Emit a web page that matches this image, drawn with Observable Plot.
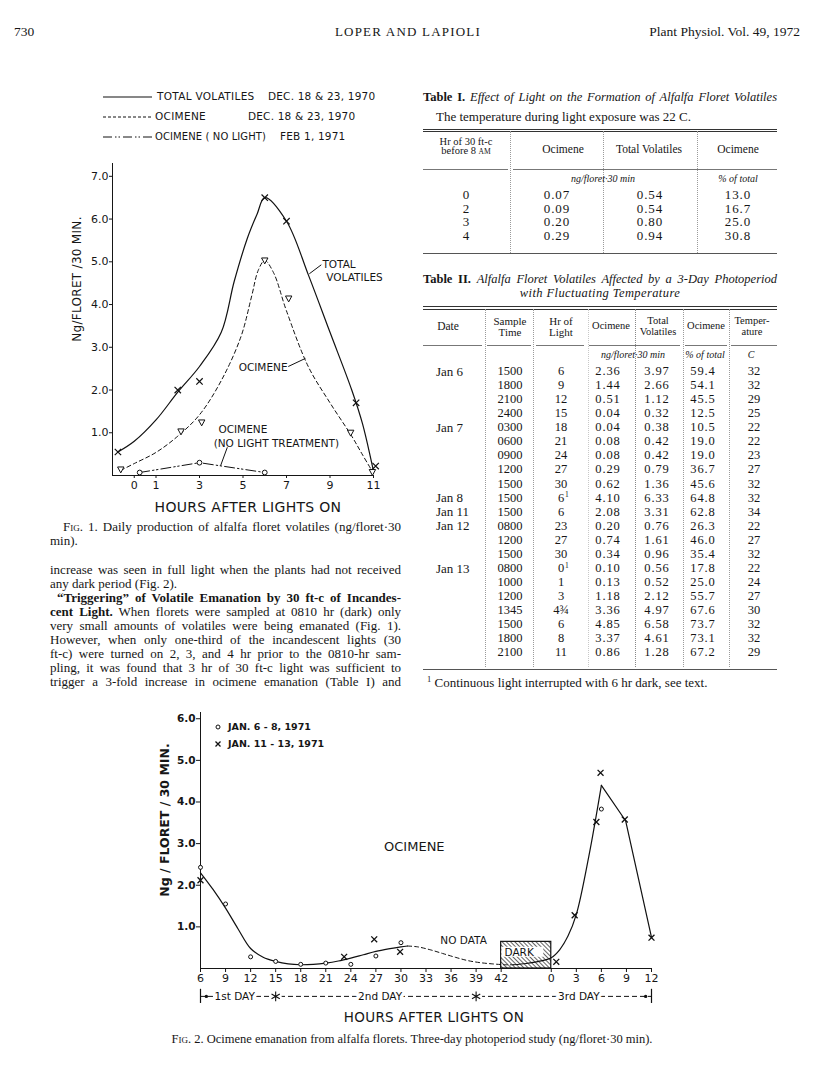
<!DOCTYPE html>
<html><head><meta charset="utf-8">
<script src="https://cdn.jsdelivr.net/npm/d3@7"></script>
<script src="https://cdn.jsdelivr.net/npm/@observablehq/plot@0.6"></script>
<style>
html,body{margin:0;padding:0;background:#fff;}
#page{position:relative;width:816px;height:1091px;overflow:hidden;background:#fff;color:#161616;font-family:"Liberation Serif","Times New Roman",serif;}
.t{position:absolute;white-space:nowrap;line-height:1;}
.sans{font-family:"DejaVu Sans",sans-serif;}
.hr{position:absolute;height:0;}
.vr{position:absolute;width:0;}
.plot{position:absolute;}
</style></head><body><div id="page"></div>
<script>
// ---------------- DATA ----------------
// Fig. 1
const f1XTicks = [0, 1, 3, 5, 7, 9, 11];
const f1YTicks = [1, 2, 3, 4, 5, 6, 7];
const f1TotalHours = [-0.75, 2, 3, 6, 7, 10.2, 11.1];
const f1TotalValues = [0.55, 2.0, 2.2, 6.5, 5.95, 1.7, 0.22];
const f1OcHours = [-0.62, 2.15, 3.1, 6.0, 7.1, 9.95, 10.95];
const f1OcValues = [0.14, 1.03, 1.24, 5.03, 4.14, 1.0, 0.08];
const f1NoLightHours = [0.25, 3.0, 6.0];
const f1NoLightValues = [0.07, 0.3, 0.07];
// hand-drawn fitted curves
const f1TotalCurveHours = [-0.75, 0, 1, 2, 3, 4, 4.6, 5.2, 5.65, 6, 7, 8, 9, 10, 10.5, 11];
const f1TotalCurveValues = [0.55, 0.8, 1.3, 1.95, 2.55, 3.35, 4.55, 5.55, 6.12, 6.5, 5.95, 4.7, 3.35, 2.0, 1.2, 0.1];
const f1OcCurveHours = [-0.62, 0, 1, 2, 3, 4, 4.9, 5.4, 5.7, 6, 6.4, 7, 8, 9, 10, 10.5, 11];
const f1OcCurveValues = [0.12, 0.28, 0.54, 0.92, 1.42, 2.22, 3.24, 4.2, 4.8, 5.03, 4.75, 3.85, 2.55, 1.7, 0.92, 0.48, 0.05];
const f1LabelText = ["TOTAL", "VOLATILES", "OCIMENE", "OCIMENE", "(NO LIGHT TREATMENT)"];
const f1LabelHours = [8.65, 8.83, 4.8, 3.87, 3.65];
const f1LabelValues = [4.94, 4.64, 2.53, 1.08, 0.75];
const f1Leaders = [[8.05, 4.72, 8.6, 4.93], [7.08, 2.55, 7.87, 2.74], [4.28, 0.66, 3.97, 0.23]];

// Fig. 2 (hours on a continuous 3-day axis: 48 = "0" of the 3rd day)
const f2TickPos = [6, 9, 12, 15, 18, 21, 24, 27, 30, 33, 36, 39, 42, 48, 51, 54, 57, 60];
const f2TickLabels = ["6", "9", "12", "15", "18", "21", "24", "27", "30", "33", "36", "39", "42", "0", "3", "6", "9", "12"];
const f2YTicks = [1, 2, 3, 4, 5, 6];
const f2CircleHours = [6, 9, 12, 15, 18, 21, 24, 27, 30, 54];
const f2CircleValues = [2.43, 1.55, 0.28, 0.17, 0.1, 0.13, 0.1, 0.3, 0.62, 3.83];
const f2CrossHours = [6, 23.2, 26.8, 29.9, 48.6, 50.8, 53.4, 53.9, 56.8, 60];
const f2CrossValues = [2.12, 0.28, 0.7, 0.4, 0.16, 1.28, 3.52, 4.7, 3.58, 0.74];
const f2CurveAHours = [6, 7.5, 9, 10.5, 12, 13.5, 15, 16.5, 18, 19.5, 21, 22.5, 24, 25.5, 27, 28.5, 30, 30.8];
const f2CurveAValues = [2.3, 1.9, 1.45, 0.95, 0.48, 0.27, 0.17, 0.11, 0.09, 0.1, 0.13, 0.18, 0.25, 0.33, 0.41, 0.47, 0.52, 0.54];
const f2DashHours = [30.8, 32, 33.5, 35, 36.5, 38, 39.5, 41, 42.5, 43.5];
const f2DashValues = [0.54, 0.52, 0.45, 0.36, 0.27, 0.19, 0.14, 0.11, 0.09, 0.09];
const f2CurveBHours = [43.5, 45, 46.5, 48, 49, 50, 51, 52.5, 54];
const f2CurveBValues = [0.09, 0.12, 0.17, 0.26, 0.45, 0.78, 1.3, 2.7, 4.4];
const f2CurveCHours = [54, 56.9, 60];
const f2CurveCValues = [4.4, 3.55, 0.75];
const f2Dark = {start: 42, end: 48, top: 0.64};
const f2DarkLabelBox = {start: 42.1, end: 47.1, low: 0.27, high: 0.51};
const f2LabelText = ["OCIMENE", "NO DATA"];
const f2LabelHours = [31.6, 37.5];
const f2LabelValues = [2.93, 0.67];
const f2LabelSizes = [13, 10.5];
const dayLabelText = ["1st DAY", "2nd DAY", "3rd DAY"];
const dayLabelHours = [10.1, 27.5, 51.3];
const daySeparators = [15, 39];
const dayEnds = [6, 60];
const dayRowValue = -0.67;

// Table I
const t1Hours = ["0", "2", "3", "4"];
const t1Ocimene = ["0.07", "0.09", "0.20", "0.29"];
const t1Total = ["0.54", "0.54", "0.80", "0.94"];
const t1Pct = ["13.0", "16.7", "25.0", "30.8"];

// Table II
const t2Date = ["Jan 6","","","","Jan 7","","","","","Jan 8","Jan 11","Jan 12","","","Jan 13","","","","","",""];
const t2Time = ["1500","1800","2100","2400","0300","0600","0900","1200","1500","1500","1500","0800","1200","1500","0800","1000","1200","1345","1500","1800","2100"];
const t2Hr = ["6","9","12","15","18","21","24","27","30","6","6","23","27","30","0","1","3","4¾","6","8","11"];
const t2HrNote = ["","","","","","","","","","1","","","","","1","","","","","",""];
const t2Oc = ["2.36","1.44","0.51","0.04","0.04","0.08","0.08","0.29","0.62","4.10","2.08","0.20","0.74","0.34","0.10","0.13","1.18","3.36","4.85","3.37","0.86"];
const t2Tot = ["3.97","2.66","1.12","0.32","0.38","0.42","0.42","0.79","1.36","6.33","3.31","0.76","1.61","0.96","0.56","0.52","2.12","4.97","6.58","4.61","1.28"];
const t2Pct = ["59.4","54.1","45.5","12.5","10.5","19.0","19.0","36.7","45.6","64.8","62.8","26.3","46.0","35.4","17.8","25.0","55.7","67.6","73.7","73.1","67.2"];
const t2Temp = ["32","32","29","25","22","22","23","27","32","32","34","22","27","32","22","24","27","30","32","32","29"];

// Body text
const bodyLines = [
  "increase was seen in full light when the plants had not received",
  "any dark period (Fig. 2).",
  "<b>“Triggering” of Volatile Emanation by 30 ft-c of Incandes-</b>",
  "<b>cent Light.</b> When florets were sampled at 0810 hr (dark) only",
  "very small amounts of volatiles were being emanated (Fig. 1).",
  "However, when only one-third of the incandescent lights (30",
  "ft-c) were turned on 2, 3, and 4 hr prior to the 0810-hr sam-",
  "pling, it was found that 3 hr of 30 ft-c light was sufficient to",
  "trigger a 3-fold increase in ocimene emanation (Table I) and"
];

// ---------------- HELPERS ----------------
const page = document.getElementById("page");
const zip = (xs, ys) => xs.map((x, i) => ({h: x, v: ys[i]}));
function put(html, x, y, o = {}) {
  const fs = o.fs || 13;
  const d = document.createElement("div");
  d.className = "t" + (o.sans ? " sans" : "");
  d.innerHTML = html;
  d.style.fontSize = fs + "px";
  d.style.left = x + "px";
  d.style.top = (y - fs * 0.55) + "px";
  if (o.bold) d.style.fontWeight = "bold";
  if (o.italic) d.style.fontStyle = "italic";
  if (o.ls) d.style.letterSpacing = o.ls + "px";
  if (o.width) {
    d.style.width = o.width + "px";
    d.style.textAlign = "justify";
    d.style.textAlignLast = o.last || "justify";
  }
  let tf = "";
  if (o.align === "center") tf = "translateX(-50%)";
  else if (o.align === "right") tf = "translateX(-100%)";
  if (o.rotate) { d.style.top = y + "px"; tf = "translate(-50%,-50%) rotate(-90deg)"; }
  d.style.transform = tf;
  page.appendChild(d);
  return d;
}
function hr(x1, x2, y, o = {}) {
  const d = document.createElement("div");
  d.className = "hr";
  d.style.left = x1 + "px"; d.style.width = (x2 - x1) + "px"; d.style.top = y + "px";
  d.style.borderTop = `${o.w || 1}px ${o.s || "solid"} ${o.c || "#444"}`;
  page.appendChild(d);
}
function vr(x, y1, y2, o = {}) {
  const d = document.createElement("div");
  d.className = "vr";
  d.style.left = x + "px"; d.style.top = y1 + "px"; d.style.height = (y2 - y1) + "px";
  d.style.borderLeft = `${o.w || 1}px ${o.s || "dotted"} ${o.c || "#9a9a9a"}`;
  page.appendChild(d);
}
function svgBox(x, y, w, h, inner) {
  const d = document.createElement("div");
  d.style.cssText = `position:absolute;left:${x}px;top:${y}px;width:${w}px;height:${h}px;`;
  d.innerHTML = `<svg width="${w}" height="${h}" xmlns="http://www.w3.org/2000/svg">${inner}</svg>`;
  page.appendChild(d);
}
function place(svg, x, y) {
  const d = document.createElement("div");
  d.className = "plot";
  d.style.left = x + "px"; d.style.top = y + "px";
  d.appendChild(svg);
  page.appendChild(d);
}

// ---------------- PAGE HEADER ----------------
put("730", 14, 32, {fs: 13.5});
put("LOPER AND LAPIOLI", 408, 32, {fs: 13, align: "center", ls: 1.2});
put("Plant Physiol. Vol. 49, 1972", 800, 32, {fs: 13.5, align: "right"});

// ---------------- FIG. 1 ----------------
svgBox(100, 87, 60, 60,
  `<line x1="3" x2="52" y1="10" y2="10" stroke="#111" stroke-width="1.2"/>
   <line x1="3" x2="53" y1="30" y2="30" stroke="#111" stroke-width="1" stroke-dasharray="3,2"/>
   <line x1="3" x2="53" y1="50" y2="50" stroke="#111" stroke-width="1" stroke-dasharray="9,3,1.5,2,1.5,3"/>`);
put("TOTAL VOLATILES", 157, 97, {fs: 10.5, sans: true, ls: 0.3});
put("DEC. 18 &amp; 23, 1970", 268, 97, {fs: 10.5, sans: true, ls: 0.2});
put("OCIMENE", 155, 117, {fs: 10.5, sans: true, ls: 0.3});
put("DEC. 18 &amp; 23, 1970", 248, 117, {fs: 10.5, sans: true, ls: 0.2});
put("OCIMENE ( NO LIGHT)", 155, 137, {fs: 10, sans: true, ls: 0.1});
put("FEB 1, 1971", 280, 137, {fs: 10.5, sans: true, ls: 0.2});

const triDown = {
  draw(ctx, size) {
    const r = Math.sqrt(size / Math.PI);
    ctx.moveTo(-r, -r * 0.8); ctx.lineTo(r, -r * 0.8); ctx.lineTo(0, r * 1.05); ctx.closePath();
  }
};
const f1Labels = f1LabelText.map((t, i) => ({text: t, h: f1LabelHours[i], v: f1LabelValues[i]}));
const f1LeaderData = f1Leaders.map(([a, b, c, d]) => ({h1: a, v1: b, h2: c, v2: d}));

const fig1 = Plot.plot({
  width: 400, height: 370,
  marginLeft: 112, marginRight: 27, marginTop: 13, marginBottom: 45,
  style: {fontFamily: "DejaVu Sans, sans-serif", fontSize: "11px", color: "#161616", background: "transparent", overflow: "visible"},
  x: {domain: [-1, 11], ticks: f1XTicks, tickFormat: d => String(d), tickSize: 3, tickPadding: 3, label: null, line: true},
  y: {domain: [0, 7.3], ticks: f1YTicks, tickFormat: d => d.toFixed(1), tickSize: 3, tickPadding: 1, label: null, line: true},
  marks: [
    Plot.line(zip(f1TotalCurveHours, f1TotalCurveValues), {x: "h", y: "v", curve: "catmull-rom", stroke: "#111", strokeWidth: 1.2}),
    Plot.line(zip(f1OcCurveHours, f1OcCurveValues), {x: "h", y: "v", curve: "catmull-rom", stroke: "#111", strokeWidth: 1, strokeDasharray: "4,3"}),
    Plot.line(zip(f1NoLightHours, f1NoLightValues), {x: "h", y: "v", stroke: "#111", strokeWidth: 1, strokeDasharray: "10,3,1.5,2.5,1.5,3"}),
    Plot.dot(zip(f1TotalHours, f1TotalValues), {x: "h", y: "v", symbol: "times", r: 3, stroke: "#111", strokeWidth: 1.2}),
    Plot.dot(zip(f1OcHours, f1OcValues), {x: "h", y: "v", symbol: triDown, r: 3.2, stroke: "#111", strokeWidth: 1, fill: "white"}),
    Plot.dot(zip(f1NoLightHours, f1NoLightValues), {x: "h", y: "v", symbol: "circle", r: 2.4, stroke: "#111", strokeWidth: 1, fill: "white"}),
    Plot.link(f1LeaderData, {x1: "h1", y1: "v1", x2: "h2", y2: "v2", stroke: "#111", strokeWidth: 1}),
    Plot.text(f1Labels, {x: "h", y: "v", text: "text", textAnchor: "start", fontSize: 10.5, fill: "#161616"})
  ]
});
place(fig1, 0, 150);
put("Ng/FLORET /30 MIN.", 77, 279, {fs: 12, sans: true, rotate: true, ls: 0.3});
put("HOURS AFTER LIGHTS ON", 248, 508, {fs: 14, sans: true, align: "center", ls: 0.3});

// Fig 1 caption
put(`<span style="font-variant:small-caps">Fig.</span> 1. Daily production of alfalfa floret volatiles (ng/floret·30`, 63, 527, {fs: 13, width: 338});
put("min).", 50, 541, {fs: 13});

// body text
bodyLines.forEach((line, i) => {
  const y = 570 + i * 14;
  if (i === 1) put(line, 50, y, {fs: 13});
  else if (i === 2) put(line, 57, y, {fs: 13, width: 344});
  else put(line, 50, y, {fs: 13, width: 351});
});

// ---------------- TABLE I ----------------
put(`<b>Table I.</b> <i>Effect of Light on the Formation of Alfalfa Floret Volatiles</i>`, 423, 98, {fs: 12.5, width: 354});
put("The temperature during light exposure was 22 C.", 436, 117, {fs: 13});
hr(423, 777, 128.5, {c: "#333"});
hr(423, 777, 131, {c: "#333"});
put("Hr of 30 ft-c", 466, 143, {fs: 10.5, align: "center"});
put(`before 8 <span style="font-size:0.72em">AM</span>`, 466, 152, {fs: 10.5, align: "center"});
put("Ocimene", 563, 150, {fs: 11.5, align: "center"});
put("Total Volatiles", 649, 150, {fs: 11.5, align: "center"});
put("Ocimene", 738, 150, {fs: 11.5, align: "center"});
hr(423, 508, 169, {c: "#777"});
hr(513, 777, 169, {c: "#777"});
vr(510, 131, 253); vr(603, 131, 253); vr(697, 131, 253);
put("ng/floret·30 min", 603, 179, {fs: 10, italic: true, align: "center"});
put("% of total", 738, 179, {fs: 10, italic: true, align: "center"});
t1Hours.forEach((h, i) => {
  const y = 195 + i * 13.7;
  put(h, 466, y, {fs: 13, align: "center"});
  put(t1Ocimene[i], 557, y, {fs: 13, align: "center", ls: 0.9});
  put(t1Total[i], 650, y, {fs: 13, align: "center", ls: 0.9});
  put(t1Pct[i], 738, y, {fs: 13, align: "center", ls: 0.9});
});
hr(423, 777, 253, {c: "#555"});

// ---------------- TABLE II ----------------
put(`<b>Table II.</b> <i>Alfalfa Floret Volatiles Affected by a 3-Day Photoperiod</i>`, 423, 280, {fs: 12.5, width: 354});
put(`<i>with Fluctuating Temperature</i>`, 600, 294, {fs: 12.5, align: "center", ls: 0.4});
hr(423, 777, 306, {c: "#333"});
hr(423, 777, 308.5, {c: "#333"});
put("Date", 448, 327, {fs: 11.5, align: "center"});
put("Sample", 510, 322, {fs: 11, align: "center"});
put("Time", 510, 333, {fs: 11, align: "center"});
put("Hr of", 561, 322, {fs: 11, align: "center"});
put("Light", 561, 333, {fs: 11, align: "center"});
put("Ocimene", 611, 327, {fs: 10.5, align: "center"});
put("Total", 658, 322, {fs: 10.5, align: "center"});
put("Volatiles", 658, 333, {fs: 10.5, align: "center"});
put("Ocimene", 706, 327, {fs: 10.5, align: "center"});
put("Temper-", 752, 322, {fs: 10.5, align: "center"});
put("ature", 752, 333, {fs: 10.5, align: "center"});
[[423, 482], [487, 531], [536, 584], [589, 680], [685, 727], [731, 777]].forEach(([a, b]) => hr(a, b, 345, {c: "#777"}));
put("ng/floret·30 min", 633, 355, {fs: 10, italic: true, align: "center"});
put("% of total", 705, 355, {fs: 10, italic: true, align: "center"});
put("C", 751, 355, {fs: 10, italic: true, align: "center"});
vr(485, 309, 667); vr(533, 309, 667); vr(588, 309, 667, {c: "#c8c8c8"});
vr(635, 309, 667, {c: "#888"}); vr(683, 309, 667); vr(729, 309, 667);
t2Time.forEach((tm, i) => {
  const y = 372 + i * 14.05;
  if (t2Date[i]) put(t2Date[i], 436, y, {fs: 13});
  put(tm, 510, y, {fs: 12.5, align: "center"});
  put(t2Hr[i], 561, y, {fs: 12.5, align: "center"});
  if (t2HrNote[i]) put(t2HrNote[i], 565, y - 3, {fs: 7.5});
  put(t2Oc[i], 608, y, {fs: 12.5, align: "center", ls: 0.9});
  put(t2Tot[i], 657, y, {fs: 12.5, align: "center", ls: 0.9});
  put(t2Pct[i], 703, y, {fs: 12.5, align: "center", ls: 0.9});
  put(t2Temp[i], 754, y, {fs: 12.5, align: "center"});
});
hr(423, 777, 669, {c: "#555"});
put(`<sup style="font-size:0.65em">1</sup> Continuous light interrupted with 6 hr dark, see text.`, 427, 682, {fs: 13});

// ---------------- FIG. 2 ----------------
const f2Labels = f2LabelText.map((t, i) => ({text: t, h: f2LabelHours[i], v: f2LabelValues[i], s: f2LabelSizes[i]}));
const dayLabels = dayLabelText.map((t, i) => ({text: t, h: dayLabelHours[i]}));
const fig2 = Plot.plot({
  width: 520, height: 300,
  marginLeft: 50, marginRight: 19, marginTop: 7, marginBottom: 37,
  style: {fontFamily: "DejaVu Sans, sans-serif", fontSize: "11px", color: "#161616", background: "transparent", overflow: "visible"},
  x: {domain: [6, 60], ticks: f2TickPos, tickFormat: d => f2TickLabels[f2TickPos.indexOf(d)], tickSize: 4, tickPadding: 2, label: null, line: true},
  y: {domain: [0, 6.15], ticks: f2YTicks, tickFormat: d => d.toFixed(1), tickSize: 4, tickPadding: 1, label: null, line: true},
  marks: [
    Plot.rect([f2Dark], {x1: "start", x2: "end", y1: 0, y2: "top", fill: "url(#hatch)", stroke: "#111", strokeWidth: 1.2}),
    Plot.rect([f2DarkLabelBox], {x1: "start", x2: "end", y1: "low", y2: "high", fill: "white"}),
    Plot.text([{text: "DARK", h: f2DarkLabelBox.start + 0.3, v: (f2DarkLabelBox.low + f2DarkLabelBox.high) / 2}], {x: "h", y: "v", text: "text", textAnchor: "start", fontSize: 10.5, fill: "#111"}),
    Plot.line(zip(f2CurveAHours, f2CurveAValues), {x: "h", y: "v", curve: "catmull-rom", stroke: "#111", strokeWidth: 1.2}),
    Plot.line(zip(f2DashHours, f2DashValues), {x: "h", y: "v", curve: "catmull-rom", stroke: "#111", strokeWidth: 1, strokeDasharray: "4,3"}),
    Plot.line(zip(f2CurveBHours, f2CurveBValues), {x: "h", y: "v", curve: "catmull-rom", stroke: "#111", strokeWidth: 1.2}),
    Plot.line(zip(f2CurveCHours, f2CurveCValues), {x: "h", y: "v", stroke: "#111", strokeWidth: 1.2}),
    Plot.dot(zip(f2CircleHours, f2CircleValues), {x: "h", y: "v", symbol: "circle", r: 2, stroke: "#111", strokeWidth: 1, fill: "white"}),
    Plot.dot(zip(f2CrossHours, f2CrossValues), {x: "h", y: "v", symbol: "times", r: 2.8, stroke: "#111", strokeWidth: 1.3}),
    Plot.text(f2Labels, {x: "h", y: "v", text: "text", fontSize: d => d.s, fill: "#161616"}),
    // day row under the axis
    Plot.ruleY([dayRowValue], {x1: 6, x2: 60, stroke: "#111", strokeWidth: 1, strokeDasharray: "5,3"}),
    Plot.ruleX(dayEnds, {x: d => d, y1: dayRowValue - 0.17, y2: dayRowValue + 0.17, stroke: "#111", strokeWidth: 1.2}),
    Plot.dot([6.7, 59.3], {x: d => d, y: dayRowValue, r: 1.7, fill: "#111"}),
    Plot.text(dayLabels, {x: "h", y: dayRowValue, text: "text", fontSize: 10.5, fill: "white", stroke: "white", strokeWidth: 7}),
    Plot.dot(daySeparators, {x: d => d, y: dayRowValue, r: 6, fill: "white", stroke: "none"}),
    Plot.dot(daySeparators, {x: d => d, y: dayRowValue, symbol: "asterisk", r: 4.5, stroke: "#111", strokeWidth: 1.1}),
    Plot.text(dayLabels, {x: "h", y: dayRowValue, text: "text", fontSize: 10.5, fill: "#111"})
  ]
});
// hatch pattern for the dark period
{
  const ns = "http://www.w3.org/2000/svg";
  const defs = document.createElementNS(ns, "defs");
  const pat = document.createElementNS(ns, "pattern");
  pat.setAttribute("id", "hatch");
  pat.setAttribute("patternUnits", "userSpaceOnUse");
  pat.setAttribute("width", "3");
  pat.setAttribute("height", "3");
  pat.setAttribute("patternTransform", "rotate(-45)");
  const ln = document.createElementNS(ns, "line");
  ln.setAttribute("x1", "0"); ln.setAttribute("y1", "0"); ln.setAttribute("x2", "0"); ln.setAttribute("y2", "3");
  ln.setAttribute("stroke", "#111"); ln.setAttribute("stroke-width", "1.3");
  pat.appendChild(ln); defs.appendChild(pat);
  fig2.insertBefore(defs, fig2.firstChild);
  fig2.querySelectorAll('[aria-label^="y-axis"] text').forEach(t => { t.setAttribute("font-weight", "bold"); t.setAttribute("font-size", "10.5"); });
}
place(fig2, 150, 705);

// Fig 2 legend
svgBox(210, 719, 16, 32,
  `<circle cx="8" cy="8" r="2" fill="white" stroke="#111" stroke-width="1"/>
   <path d="M5.5,22.5 L10.5,27.5 M10.5,22.5 L5.5,27.5" stroke="#111" stroke-width="1.3"/>`);
put("JAN. 6 - 8, 1971", 228, 727, {fs: 9.5, sans: true, bold: true});
put("JAN. 11 - 13, 1971", 228, 744, {fs: 9.5, sans: true, bold: true});
put("Ng / FLORET / 30 MIN.", 165, 820, {fs: 12.5, sans: true, bold: true, rotate: true});
put("HOURS AFTER LIGHTS ON", 434, 1018, {fs: 13.5, sans: true, align: "center", ls: 0.3});
put(`<span style="font-variant:small-caps">Fig.</span> 2. Ocimene emanation from alfalfa florets. Three-day photoperiod study (ng/floret·30 min).`, 412, 1040, {fs: 12.5, align: "center"});
</script></body></html>
